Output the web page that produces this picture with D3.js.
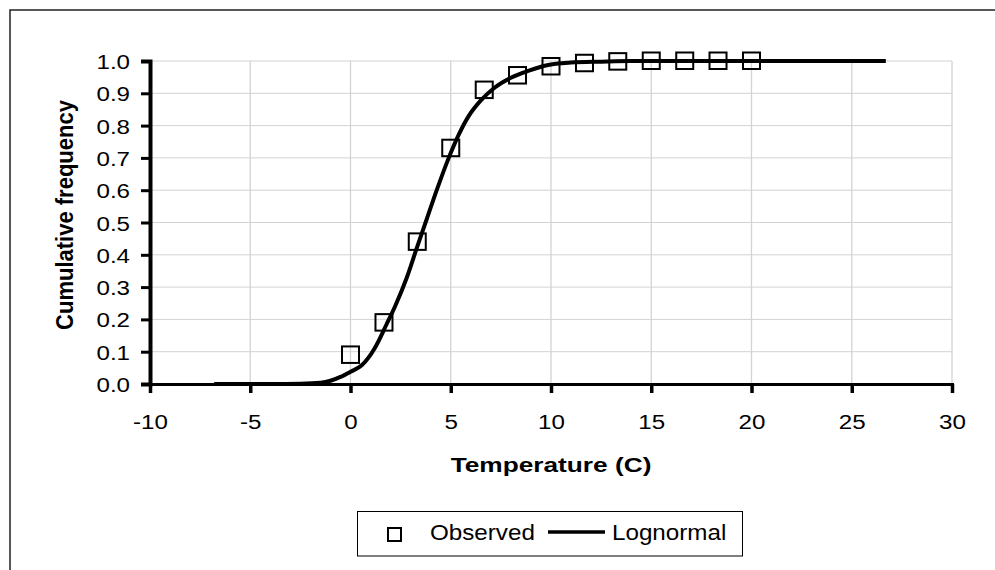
<!DOCTYPE html>
<html>
<head>
<meta charset="utf-8">
<script src="https://cdn.jsdelivr.net/npm/d3@7/dist/d3.min.js"></script>
<style>
  html, body { margin: 0; padding: 0; background: #fff; }
  svg { display: block; font-family: "Liberation Sans", Arial, sans-serif; }
</style>
</head>
<body>
<svg id="chart" width="995" height="570"></svg>
<script>
// Observed cumulative frequencies
const obsTemp = [0, 1.67, 3.33, 5, 6.67, 8.33, 10, 11.67, 13.33, 15, 16.67, 18.33, 20];
const obsFreq = [0.09, 0.19, 0.44, 0.73, 0.91, 0.955, 0.983, 0.993, 0.998, 1.0, 1.0, 1.0, 1.0];

// Fitted lognormal cumulative curve
const fitTemp = [-6.8, -4, -2.5, -1.5, -1.0, -0.5, 0, 0.56, 1.2, 1.8, 2.22, 2.8, 3.3, 3.8, 4.3, 4.88, 5.4, 5.9, 6.5, 7.2, 8.0, 8.9, 9.8, 11, 12.5, 14, 16, 20, 26.7];
const fitFreq = [0, 0, 0.001, 0.004, 0.01, 0.022, 0.038, 0.058, 0.11, 0.185, 0.24, 0.328, 0.42, 0.51, 0.6, 0.697, 0.772, 0.83, 0.878, 0.918, 0.948, 0.97, 0.987, 0.995, 0.998, 1, 1, 1, 1];

// Axis ticks
const xTicks = [-10, -5, 0, 5, 10, 15, 20, 25, 30];
const yTicks = [0, 0.1, 0.2, 0.3, 0.4, 0.5, 0.6, 0.7, 0.8, 0.9, 1.0];

const svg = d3.select("#chart");

const plot = { left: 150, right: 952, top: 61, bottom: 384 };
const x = d3.scaleLinear().domain([-10, 30]).range([plot.left, plot.right]);
const y = d3.scaleLinear().domain([0, 1]).range([plot.bottom, plot.top]);

// Outer chart frame
svg.append("rect")
  .attr("x", 10).attr("y", 10)
  .attr("width", 1100).attr("height", 700)
  .attr("fill", "none").attr("stroke", "#222").attr("stroke-width", 1.5);

// Gridlines
const grid = svg.append("g").attr("class", "grid");
grid.selectAll("line.v").data(xTicks.slice(1)).join("line")
  .attr("class", "v")
  .attr("x1", d => x(d)).attr("x2", d => x(d))
  .attr("y1", plot.top).attr("y2", plot.bottom)
  .attr("stroke", "#d3d3d3").attr("stroke-width", 1.3);
grid.selectAll("line.h").data(yTicks.slice(1)).join("line")
  .attr("class", "h")
  .attr("x1", plot.left).attr("x2", plot.right)
  .attr("y1", d => y(d)).attr("y2", d => y(d))
  .attr("stroke", "#d3d3d3").attr("stroke-width", 1);

const tickFont = 21;
const tickStretch = 1.15;

// Y axis
const yAxis = svg.append("g")
  .attr("transform", `translate(${plot.left},0)`)
  .call(d3.axisLeft(y).tickValues(yTicks).tickFormat(d3.format(".1f")).tickSizeOuter(0).tickSize(9));
yAxis.select(".domain").attr("stroke", "#000").attr("stroke-width", 4);
yAxis.selectAll(".tick line").attr("stroke", "#000").attr("stroke-width", 3);
yAxis.selectAll(".tick text")
  .attr("x", -20 / tickStretch)
  .attr("dy", "0.36em")
  .attr("transform", `scale(${tickStretch},1)`)
  .attr("fill", "#000")
  .style("font-size", tickFont + "px")
  .style("font-family", "'Liberation Sans', Arial, sans-serif");

// X axis
const xAxis = svg.append("g")
  .attr("transform", `translate(0,${plot.bottom})`)
  .call(d3.axisBottom(x).tickValues(xTicks).tickFormat(d => String(d)).tickSizeOuter(0).tickSize(9));
xAxis.select(".domain").attr("stroke", "#000").attr("stroke-width", 3);
xAxis.selectAll(".tick line").attr("stroke", "#000").attr("stroke-width", 3.5);
xAxis.selectAll(".tick text")
  .attr("y", 45)
  .attr("dy", 0)
  .attr("transform", `scale(${tickStretch},1)`)
  .attr("x", 0)
  .attr("fill", "#000")
  .style("font-size", tickFont + "px")
  .style("font-family", "'Liberation Sans', Arial, sans-serif");

// Axis titles
svg.append("text")
  .attr("transform", `translate(${(plot.left + plot.right) / 2},472) scale(1.25,1)`)
  .attr("text-anchor", "middle")
  .style("font-size", "21px").style("font-weight", "bold")
  .text("Temperature (C)");

svg.append("text")
  .attr("transform", "translate(73,215) rotate(-90) scale(1,1.11)")
  .attr("text-anchor", "middle")
  .style("font-size", "22px").style("font-weight", "bold")
  .text("Cumulative frequency");

// Lognormal curve
const line = d3.line()
  .x((d, i) => x(fitTemp[i]))
  .y(d => y(d))
  .curve(d3.curveMonotoneX);
svg.append("path")
  .datum(fitFreq)
  .attr("d", line)
  .attr("fill", "none")
  .attr("stroke", "#000")
  .attr("stroke-width", 4)
  .attr("stroke-linejoin", "round");

// Observed markers
const sq = 17;
svg.append("g").selectAll("rect").data(obsFreq).join("rect")
  .attr("x", (d, i) => x(obsTemp[i]) - sq / 2)
  .attr("y", d => y(d) - sq / 2)
  .attr("width", sq).attr("height", sq - 0.5)
  .attr("fill", "none")
  .attr("stroke", "#000")
  .attr("stroke-width", 2);

// Legend
const legend = svg.append("g");
legend.append("rect")
  .attr("x", 357.5).attr("y", 511.5)
  .attr("width", 385).attr("height", 44.5)
  .attr("fill", "#fff").attr("stroke", "#000").attr("stroke-width", 1);
legend.append("rect")
  .attr("x", 388).attr("y", 528)
  .attr("width", 13).attr("height", 13)
  .attr("fill", "none").attr("stroke", "#000").attr("stroke-width", 2);
legend.append("text")
  .attr("transform", "translate(430,540) scale(1.1,1)")
  .style("font-size", "22px")
  .text("Observed");
legend.append("line")
  .attr("x1", 548).attr("x2", 605)
  .attr("y1", 532).attr("y2", 532)
  .attr("stroke", "#000").attr("stroke-width", 3.5);
legend.append("text")
  .attr("transform", "translate(612,540) scale(1.1,1)")
  .style("font-size", "22px")
  .text("Lognormal");
</script>
</body>
</html>
